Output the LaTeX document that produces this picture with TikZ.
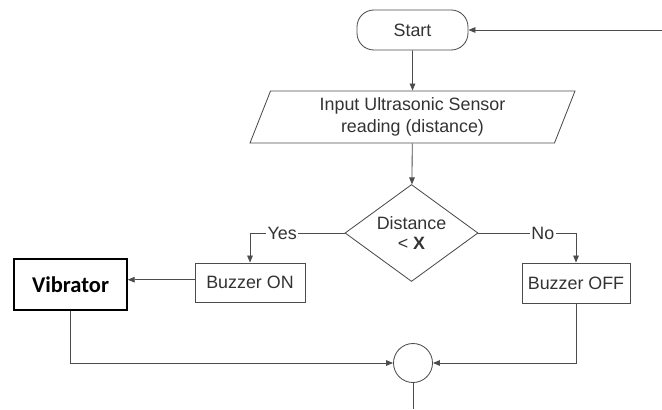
\documentclass[tikz,border=0pt]{standalone}
\usepackage{fontspec}
\setmainfont{Liberation Sans}
\newfontfamily\vibfont{Carlito}
\usetikzlibrary{shapes.geometric, arrows.meta}
\definecolor{flowline}{gray}{0.30}
\definecolor{flowtext}{gray}{0.20}

\begin{document}
\begin{tikzpicture}[x=0.025cm, y=-0.025cm,
	font=\fontsize{12.7}{15.6}\selectfont,
	every node/.style={text=flowtext},
	box/.style={draw=flowline, line width=0.6pt, minimum width=#1*0.025cm, minimum height=1cm, inner sep=0pt},
	flow/.style={draw=flowline, line width=0.6pt, -{Triangle[length=5pt, width=4pt]}},
	tag/.style={fill=white, inner sep=1pt}]
			\useasboundingbox (0, 0) rectangle (662, 409);

			% terminal and input
			\node[box=111, rounded corners=12pt] (start) at (412.5, 30) {Start};
			\node[draw=flowline, line width=0.6pt, shape=trapezium, trapezium left angle=62, trapezium right angle=118,
				trapezium stretches body, minimum width=325*0.025cm, minimum height=52*0.025cm, inner sep=0pt,
				align=center] (input) at (412.5, 117) {Input Ultrasonic Sensor\\reading (distance)};

			% decision
			\node[draw=flowline, line width=0.6pt, shape=diamond, aspect=1.37, inner sep=0pt,
				minimum width=133*0.025cm, minimum height=97*0.025cm, align=center] (decide) at (411.5, 233)
				{Distance\\[-1pt]< \textbf{X}};

			% outputs
			\node[box=110, minimum height=39*0.025cm] (buzon) at (250, 282.5) {Buzzer ON};
			\node[box=108, minimum height=40*0.025cm] (buzoff) at (576, 283) {Buzzer OFF};
			\node[box=113, draw=black, line width=1pt, minimum height=51*0.025cm, text=black,
				font=\vibfont\bfseries\fontsize{16}{18}\selectfont] (vib) at (70.5, 284.5) {Vibrator};

			% connector
			\node[draw=flowline, line width=0.6pt, circle, minimum size=39*0.025cm, inner sep=0pt] (join) at (413, 363) {};

			\coordinate (back) at (662, 30);
			\coordinate (exit) at (413, 409);
			\coordinate (buzout) at ([yshift=2pt]buzon.west);

			\draw[flow] (back) -- (start.east);
			\draw[flow] (start) -- (input);
			\draw[flow] (input) -- (decide);
			\draw[flow] (decide.west) -| node[tag, pos=0.33] {Yes} (buzon.north);
			\draw[flow] (decide.east) -| node[tag, pos=0.33] {No} (buzoff.north);
			\draw[flow] (buzout) -- (vib.east |- buzout);
			\draw[flow] (vib.south) |- (join.west);
			\draw[flow] (buzoff.south) |- (join.east);
			\draw[draw=flowline, line width=0.6pt] (join.south) -- (exit);
		\end{tikzpicture}
\end{document}
